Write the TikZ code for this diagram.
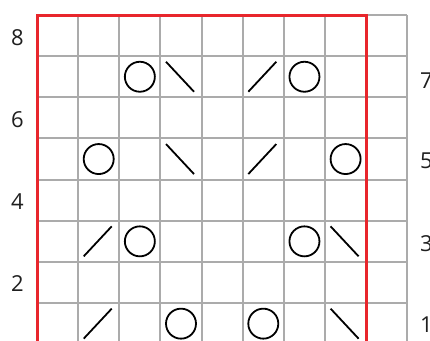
\documentclass[tikz,border=0pt]{standalone}
\usepackage{fontspec}
\setmainfont{Open Sans}
\definecolor{gridgray}{HTML}{ABABAB}
\definecolor{chartred}{HTML}{E8262C}
\begin{document}
\begin{tikzpicture}[x=1pt,y=-1pt,
  gridline/.style={gridgray,line width=2pt},
  redframe/.style={chartred,line width=3pt},
  yo/.style={circle,draw=black,line width=1.8pt,minimum size=30pt,inner sep=0pt},
  dec/.style={black,line width=1.8pt},
  rowlabel/.style={font=\fontsize{22}{26}\selectfont,text=black!88,inner sep=0pt}]
\useasboundingbox (0,0) rectangle (430,340);
\clip (0,0) rectangle (430,340);
\fill[white] (0,0) rectangle (430,340);
% grid
\foreach \i in {0,...,9} \draw[gridline] (37+41.15*\i,15) -- (37+41.15*\i,360);
\foreach \j in {0,...,8} \draw[gridline] (37,15+41.15*\j) -- (407.35,15+41.15*\j);
% red frame
\draw[redframe] (37,360) -- (37,15) -- (366.2,15) -- (366.2,360);
% symbols: yarn overs
\foreach \c/\r [count=\k] in {3/7,7/7,2/5,8/5,3/3,7/3,4/1,6/1}
  \node[yo] (yo\k) at (37+41.15*\c-20.6,15+41.15*8-41.15*\r+20.6) {};
% right-leaning decreases (/)
\foreach \c/\r in {6/7,6/5,2/3,2/1}
  \draw[dec] (37+41.15*\c-20.6-15,15+41.15*8-41.15*\r+20.6+15) -- (37+41.15*\c-20.6+13,15+41.15*8-41.15*\r+20.6-15);
% left-leaning decreases (\)
\foreach \c/\r in {4/7,4/5,8/3,8/1}
  \draw[dec] (37+41.15*\c-20.6-15,15+41.15*8-41.15*\r+20.6-15) -- (37+41.15*\c-20.6+13,15+41.15*8-41.15*\r+20.6+15);
% row labels
\node[rowlabel] (l8) at (17.5,38) {8};
\node[rowlabel] (l6) at (17.5,120) {6};
\node[rowlabel] (l4) at (17.5,202) {4};
\node[rowlabel] (l2) at (17.5,284) {2};
\node[rowlabel,anchor=west] (l7) at (420,81) {7};
\node[rowlabel,anchor=west] (l5) at (420,161) {5};
\node[rowlabel,anchor=west] (l3) at (420,244) {3};
\node[rowlabel,anchor=west] (l1) at (420,325) {1};
\end{tikzpicture}
\end{document}
